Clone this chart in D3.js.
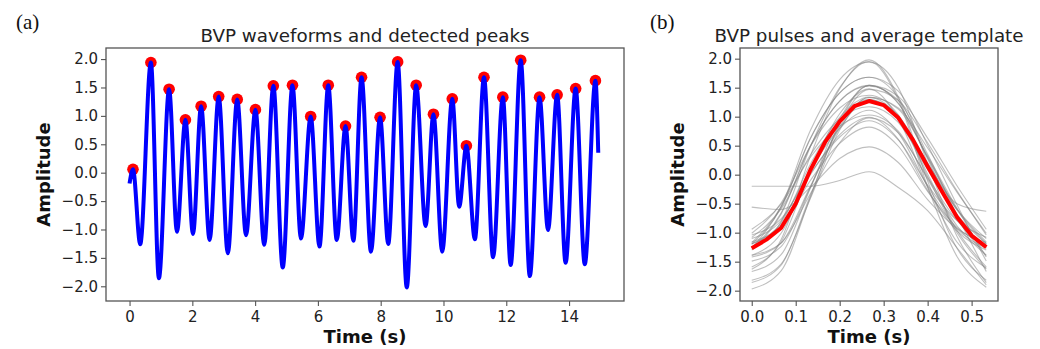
<!DOCTYPE html>
<html><head><meta charset="utf-8">
<script src="https://cdn.jsdelivr.net/npm/d3@7"></script>
<style>
body{margin:0;background:#fff;}
svg{display:block;font-family:"DejaVu Sans",sans-serif;}
</style>
</head><body>
<svg id="c" width="1040" height="349"></svg>
<script>
// ---------- Panel (a) data ----------
const waveStart = [0, -0.19];
const waveEnd = [14.93, 0.35];
const peakTimes = [0.11, 0.68, 1.26, 1.78, 2.28, 2.84, 3.43, 4.01, 4.58, 5.19, 5.77, 6.33, 6.88, 7.39, 7.98, 8.54, 9.13, 9.68, 10.28, 10.73, 11.29, 11.89, 12.46, 13.06, 13.62, 14.21, 14.84];
const peakValues = [0.06, 1.94, 1.47, 0.93, 1.17, 1.34, 1.29, 1.11, 1.53, 1.54, 0.99, 1.54, 0.82, 1.68, 0.975, 1.95, 1.54, 1.03, 1.30, 0.475, 1.68, 1.33, 1.98, 1.33, 1.37, 1.48, 1.62];
const troughTimes = [0.34, 0.935, 1.51, 2.02, 2.55, 3.13, 3.71, 4.29, 4.88, 5.46, 6.05, 6.60, 7.13, 7.69, 8.24, 8.83, 9.43, 9.96, 10.5, 11.0, 11.58, 12.14, 12.75, 13.33, 13.89, 14.5];
const troughValues = [-1.26, -1.86, -1.04, -1.08, -1.185, -1.42, -1.10, -1.27, -1.67, -1.16, -1.30, -1.185, -1.20, -1.39, -1.255, -2.02, -0.94, -1.39, -0.60, -1.17, -1.49, -1.625, -1.82, -1.01, -1.585, -1.61];
const xTicksA = [0, 2, 4, 6, 8, 10, 12, 14];
const yTicks = [-2.0, -1.5, -1.0, -0.5, 0.0, 0.5, 1.0, 1.5, 2.0];

// ---------- Panel (b) data ----------
const pulseTime = [0, 0.0667, 0.1333, 0.2, 0.2667, 0.3333, 0.4, 0.4667, 0.5333];
const pulses = [
  [-0.20, -0.20, -0.20, -0.10, 0.05, -0.22, -0.62, -1.26, -1.90],
  [-1.26, -0.55, 0.76, 1.64, 1.94, 1.50, 0.19, -1.06, -1.86],
  [-1.86, -1.56, -0.36, 0.87, 1.47, 1.28, 0.55, -0.28, -1.04],
  [-1.04, -0.76, 0.02, 0.65, 0.93, 0.60, -0.18, -0.79, -1.08],
  [-1.08, -0.59, 0.34, 0.96, 1.17, 0.90, 0.09, -0.69, -1.19],
  [-1.19, -0.83, 0.18, 0.99, 1.34, 1.13, 0.32, -0.58, -1.42],
  [-1.42, -1.18, -0.20, 0.80, 1.29, 1.02, 0.19, -0.60, -1.10],
  [-1.10, -0.79, 0.09, 0.80, 1.11, 0.72, -0.20, -0.93, -1.27],
  [-1.27, -0.66, 0.50, 1.27, 1.53, 1.28, 0.35, -0.70, -1.67],
  [-1.67, -1.38, -0.23, 0.96, 1.54, 1.23, 0.30, -0.59, -1.16],
  [-1.16, -0.86, 0.00, 0.69, 0.99, 0.61, -0.27, -0.97, -1.30],
  [-1.30, -0.68, 0.49, 1.27, 1.54, 1.23, 0.29, -0.61, -1.19],
  [-1.19, -0.90, -0.10, 0.54, 0.82, 0.49, -0.29, -0.91, -1.20],
  [-1.20, -0.57, 0.62, 1.41, 1.68, 1.33, 0.27, -0.75, -1.39],
  [-1.39, -1.18, -0.33, 0.55, 0.98, 0.72, -0.05, -0.79, -1.26],
  [-1.26, -0.81, 0.48, 1.50, 1.95, 1.29, -0.21, -1.41, -1.94],
  [-1.97, -1.66, -0.39, 0.91, 1.54, 1.35, 0.63, -0.19, -0.94],
  [-0.94, -0.51, 0.30, 0.84, 1.03, 0.75, -0.08, -0.88, -1.39],
  [-1.39, -1.01, 0.06, 0.92, 1.30, 0.95, 0.20, -0.50, -0.63],
  [-0.56, -0.60, -0.22, 0.28, 0.48, 0.21, -0.43, -0.93, -1.17],
  [-1.17, -0.55, 0.63, 1.41, 1.68, 1.44, 0.51, -0.52, -1.49],
  [-1.49, -1.24, -0.22, 0.83, 1.33, 0.99, -0.03, -1.00, -1.63],
  [-1.63, -1.12, 0.32, 1.48, 1.98, 1.34, -0.11, -1.27, -1.82],
  [-1.82, -1.54, -0.41, 0.77, 1.33, 1.15, 0.46, -0.30, -1.01],
  [-1.01, -0.49, 0.49, 1.15, 1.37, 1.03, 0.01, -0.96, -1.59],
  [-1.59, -1.16, 0.07, 1.05, 1.48, 0.97, -0.22, -1.16, -1.61]
];
const templateTime = [0, 0.0333, 0.0667, 0.1, 0.1333, 0.1667, 0.2, 0.2333, 0.2667, 0.3, 0.3333, 0.3667, 0.4, 0.4333, 0.4667, 0.5, 0.5333];
const templateValues = [-1.27, -1.12, -0.92, -0.50, 0.08, 0.56, 0.92, 1.18, 1.27, 1.20, 0.98, 0.60, 0.14, -0.30, -0.73, -1.05, -1.25];
const xTicksB = [0.0, 0.1, 0.2, 0.3, 0.4, 0.5];

// ---------- Layout ----------
const svg = d3.select("#c");
const TXT = "#222";
const SPINE = "#555";
const tickFont = 15;

function drawAxes(g, x, y, box, xTicks, xFmt, title, panelLabel, labelX) {
  const ya = d3.axisLeft(y).tickValues(yTicks).tickSize(5).tickPadding(3).tickFormat(d3.format(".1f"));
  const gy = g.append("g").attr("transform", `translate(${box.l},0)`).call(ya);
  const xa = d3.axisBottom(x).tickValues(xTicks).tickSize(5).tickPadding(5).tickFormat(xFmt);
  const gx = g.append("g").attr("transform", `translate(0,${box.b})`).call(xa);
  [gx, gy].forEach(a => {
    a.select(".domain").remove();
    a.selectAll(".tick line").attr("stroke", SPINE).attr("stroke-width", 1.1);
    a.selectAll(".tick text").attr("fill", TXT).style("font-size", tickFont + "px").style("font-family", '"DejaVu Sans",sans-serif');
  });
  g.append("rect").attr("x", box.l).attr("y", box.t).attr("width", box.r - box.l).attr("height", box.b - box.t)
    .attr("fill", "none").attr("stroke", SPINE).attr("stroke-width", 1.3);
  g.append("text").attr("x", (box.l + box.r) / 2).attr("y", 42).attr("text-anchor", "middle")
    .attr("fill", TXT).style("font-size", "18.3px").text(title);
  g.append("text").attr("x", (box.l + box.r) / 2).attr("y", 343).attr("text-anchor", "middle")
    .attr("fill", "#111").style("font-size", "18px").style("font-weight", "bold").text("Time (s)");
  g.append("text").attr("transform", `translate(${box.l - 56},${(box.t + box.b) / 2}) rotate(-90)`)
    .attr("text-anchor", "middle").attr("fill", "#111").style("font-size", "18px").style("font-weight", "bold").text("Amplitude");
  g.append("text").attr("x", labelX).attr("y", 29).attr("fill", "#111")
    .style("font-family", '"Liberation Serif","DejaVu Serif",serif').style("font-size", "21px").text(panelLabel);
}

// ---------- Panel (a) ----------
const boxA = {l: 106, t: 48, r: 624, b: 301};
const xA = d3.scaleLinear().domain([-0.75, 15.75]).range([boxA.l, boxA.r]);
const yA = d3.scaleLinear().domain([-2.259, 2.195]).range([boxA.b, boxA.t]);
const gA = svg.append("g");

const wave = [waveStart];
peakTimes.forEach((t, i) => {
  wave.push([t, peakValues[i]]);
  if (i < troughTimes.length) wave.push([troughTimes[i], troughValues[i]]);
});
wave.push(waveEnd);

gA.selectAll("circle.pk").data(peakTimes).join("circle").attr("class", "pk")
  .attr("cx", (d) => xA(d)).attr("cy", (d, i) => yA(peakValues[i])).attr("r", 5.8).attr("fill", "#ff0000");
gA.append("path").datum(wave)
  .attr("d", d3.line().x(d => xA(d[0])).y(d => yA(d[1])).curve(d3.curveMonotoneX))
  .attr("fill", "none").attr("stroke", "#0000ff").attr("stroke-width", 4).attr("stroke-linejoin", "round").attr("stroke-linecap", "butt");

drawAxes(gA, xA, yA, boxA, xTicksA, d3.format("d"), "BVP waveforms and detected peaks", "(a)", 16);

// ---------- Panel (b) ----------
const boxB = {l: 740, t: 48, r: 998, b: 301};
const xB = d3.scaleLinear().domain([-0.0267, 0.56]).range([boxB.l, boxB.r]);
const yB = d3.scaleLinear().domain([-2.178, 2.184]).range([boxB.b, boxB.t]);
const gB = svg.append("g");

const pulseLine = d3.line().x((d, i) => xB(pulseTime[i])).y(d => yB(d)).curve(d3.curveMonotoneX);
gB.selectAll("path.pulse").data(pulses).join("path").attr("class", "pulse")
  .attr("d", pulseLine).attr("fill", "none").attr("stroke", "#808080").attr("stroke-opacity", 0.5).attr("stroke-width", 1.1);
gB.append("path").datum(templateValues)
  .attr("d", d3.line().x((d, i) => xB(templateTime[i])).y(d => yB(d)))
  .attr("fill", "none").attr("stroke", "#ff0000").attr("stroke-width", 4).attr("stroke-linejoin", "round");

drawAxes(gB, xB, yB, boxB, xTicksB, d3.format(".1f"), "BVP pulses and average template", "(b)", 650);
</script>
</body></html>
